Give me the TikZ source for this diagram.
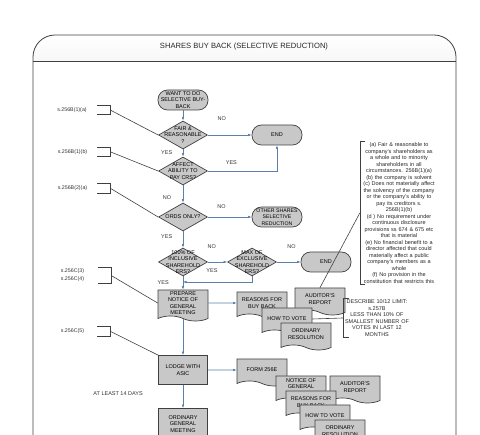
\documentclass[tikz,border=0pt]{standalone}
\usepackage{fontspec}
\setmainfont{Liberation Sans}
\usepackage{tikz}
\usetikzlibrary{positioning,arrows.meta,shapes.geometric,shapes.symbols}

\definecolor{flowblue}{RGB}{92,128,172}
\definecolor{boxgray}{RGB}{200,200,200}
\definecolor{edgegray}{RGB}{64,64,64}

\begin{document}
\begin{tikzpicture}[
			x=1pt, y=1pt,
			>={Latex[length=3.5pt,width=2.6pt]},
			on grid,
			every node/.style={
				align=center,
				inner sep=1pt,
				font=\fontsize{5.5}{6.5}\selectfont
			},
			terminal/.style={draw=edgegray, fill=boxgray, line width=0.7pt,
				rounded corners=9.5pt, minimum width=50pt, minimum height=20pt},
			decision/.style={diamond, draw=edgegray, fill=boxgray, line width=0.7pt,
				minimum width=49pt, minimum height=28pt, inner sep=0pt},
			process/.style={draw=edgegray, fill=boxgray, line width=0.7pt,
				minimum width=49pt, minimum height=29pt},
			docbox/.style={tape, tape bend top=none, tape bend bottom=out and in,
				tape bend height=5pt, draw=edgegray, fill=boxgray, line width=0.7pt,
				minimum width=50pt, minimum height=27pt},
			flow/.style={->, flowblue, line width=0.6pt},
			refline/.style={edgegray, line width=0.6pt},
			yesno/.style={text=black!80},
			clause/.style={text=black!80, font=\fontsize{5.3}{8}\selectfont},
			sidenote/.style={text=black!85, font=\fontsize{5.5}{6.5}\selectfont}
			]
			
			\useasboundingbox (0,0) rectangle (480,-435);
			\clip (0,0) rectangle (480,-435);
			
			%%%%%%%%%%%%%%%%%%%%%%%%%%%%%%%%%%%%%%%%%%%%%%%%%%%%%%%%%%%%
			% Frame
			%%%%%%%%%%%%%%%%%%%%%%%%%%%%%%%%%%%%%%%%%%%%%%%%%%%%%%%%%%%%
			
			\begin{scope}
				\clip (33,-61) rectangle (456,0);
				\shade[top color=white, bottom color=gray!20, rounded corners=22pt]
				(33,-120) -- (33,-35) -- (456,-35) -- (456,-120) -- cycle;
			\end{scope}
			
			\draw[edgegray, line width=0.8pt, rounded corners=22pt]
			(33,-450) -- (33,-35) -- (456,-35) -- (456,-450);
			
			\draw[edgegray, line width=0.8pt] (33,-61) -- (456,-61);
			
			\node[text=black!85, font=\fontsize{7.6}{9}\selectfont] (title) at (244,-47)
			{SHARES BUY BACK (SELECTIVE REDUCTION)};
			
			%%%%%%%%%%%%%%%%%%%%%%%%%%%%%%%%%%%%%%%%%%%%%%%%%%%%%%%%%%%%
			% Tests
			%%%%%%%%%%%%%%%%%%%%%%%%%%%%%%%%%%%%%%%%%%%%%%%%%%%%%%%%%%%%
			
			\node[terminal] (start) at (183,-100)
			{WANT TO DO\\SELECTIVE BUY-\\BACK};
			
			\node[decision, label=center:{FAIR \&\\REASONABLE\\?}] (fair) [below=35pt of start] {};
			
			\node[terminal] (end1) [right=94pt of fair] {END};
			
			\node[decision, label=center:{AFFECT\\ABILITY TO\\PAY CRS?}] (affect) [below=36pt of fair] {};
			
			\node[decision, label=center:{ORDS ONLY?}] (ords) [below=46pt of affect] {};
			
			\node[terminal, font=\fontsize{5.2}{6.3}\selectfont] (other) [right=94pt of ords]
			{OTHER SHARES\\SELECTIVE\\REDUCTION};
			
			\node[decision, label=center:{100\% OF\\INCLUSIVE\\SHAREHOLD\\ERS?}] (incl) [below=45pt of ords] {};
			
			\node[decision, label=center:{MAX OF\\EXCLUSIVE\\SHAREHOLD\\ERS?}] (maxd) [right=69pt of incl] {};
			
			\node[terminal] (end2) [right=74pt of maxd] {END};
			
			\coordinate[below=20pt of incl] (join);
			
			%%%%%%%%%%%%%%%%%%%%%%%%%%%%%%%%%%%%%%%%%%%%%%%%%%%%%%%%%%%%
			% Meeting
			%%%%%%%%%%%%%%%%%%%%%%%%%%%%%%%%%%%%%%%%%%%%%%%%%%%%%%%%%%%%
			
			\node[docbox, minimum height=31pt] (prepare) [below=41pt of incl]
			{PREPARE\\NOTICE OF\\GENERAL\\MEETING};
			
			\node[docbox] (reasons) [right=79pt of prepare] {REASONS FOR\\BUY BACK};
			
			\node[docbox] (auditor) [above right=4pt and 58pt of reasons] {AUDITOR'S\\REPORT};
			
			\node[docbox] (howvote) [below right=16pt and 25pt of reasons] {HOW TO VOTE};
			
			\node[docbox] (ordres) [below right=15pt and 19pt of howvote] {ORDINARY\\RESOLUTION};
			
			\node[process] (lodge) [below=67pt of prepare] {LODGE WITH\\ASIC};
			
			\node[process, minimum height=31pt] (ogm) [below=54pt of lodge]
			{ORDINARY\\GENERAL\\MEETING};
			
			%%%%%%%%%%%%%%%%%%%%%%%%%%%%%%%%%%%%%%%%%%%%%%%%%%%%%%%%%%%%
			% Lodged Documents
			%%%%%%%%%%%%%%%%%%%%%%%%%%%%%%%%%%%%%%%%%%%%%%%%%%%%%%%%%%%%
			
			\node[docbox] (form) [right=79pt of lodge] {FORM 256E};
			
			\node[docbox] (notice2) [below right=17pt and 39pt of form] {NOTICE OF\\GENERAL\\MEETING};
			
			\node[docbox] (auditor2) [right=54pt of notice2] {AUDITOR'S\\REPORT};
			
			\node[docbox] (reasons2) [below right=15pt and 10pt of notice2] {REASONS FOR\\BUY BACK};
			
			\node[docbox] (howvote2) [below right=14pt and 14pt of reasons2] {HOW TO VOTE};
			
			\node[docbox] (ordres2) [below right=15pt and 15pt of howvote2] {ORDINARY\\RESOLUTION};
			
			%%%%%%%%%%%%%%%%%%%%%%%%%%%%%%%%%%%%%%%%%%%%%%%%%%%%%%%%%%%%
			% Sections
			%%%%%%%%%%%%%%%%%%%%%%%%%%%%%%%%%%%%%%%%%%%%%%%%%%%%%%%%%%%%
			
			\node (br1) [above left=25pt and 79.5pt of fair, minimum width=13pt, minimum height=8pt] {};
			\node[clause] (ref1) [left=31.5pt of br1] {s.256B(1)(a)};
			
			\node (br2) [above left=19pt and 79pt of affect, minimum width=13pt, minimum height=9pt] {};
			\node[clause] (ref2) [left=31.5pt of br2] {s.256B(1)(b)};
			
			\node (br3) [above left=28.5pt and 79pt of ords, minimum width=13pt, minimum height=9pt] {};
			\node[clause] (ref3) [left=31.5pt of br3] {s.256B(2)(a)};
			
			\node (br4) [above left=27.5pt and 78.5pt of prepare, minimum width=13pt, minimum height=15pt] {};
			\node[clause] (ref4) [left=32pt of br4] {s.256C(3)\\s.256C(4)};
			
			\node (br5) [above left=38.5pt and 79pt of lodge, minimum width=13pt, minimum height=9pt] {};
			\node[clause] (ref5) [left=31.5pt of br5] {s.256C(5)};
			
			%%%%%%%%%%%%%%%%%%%%%%%%%%%%%%%%%%%%%%%%%%%%%%%%%%%%%%%%%%%%
			% Notes
			%%%%%%%%%%%%%%%%%%%%%%%%%%%%%%%%%%%%%%%%%%%%%%%%%%%%%%%%%%%%
			
			\node[sidenote, text width=76pt] (crit) [below right=78pt and 122pt of end1]
			{(a) Fair \& reasonable to\\
				company's shareholders as\\
				a whole and to minority\\
				shareholders in all\\
				circumstances. 256B(1)(a)\\
				(b) the company is solvent\\
				(c) Does not materially affect\\
				the solvency of the company\\
				or the company's ability to\\
				pay its creditors s.\\
				256B(1)(b)\\
				(d ) No requirement under\\
				continuous disclosure\\
				provisions ss 674 \& 675 etc\\
				that is material\\
				(e) No financial benefit to a\\
				director affected that could\\
				materially affect a public\\
				company's members as a\\
				whole\\
				(f) No provision in the\\
				constitution that restricts this};
			
			\node[sidenote, text width=66pt] (limit) [below right=19pt and 57pt of auditor]
			{DESCRIBE 10/12 LIMIT:\\
				s.257B\\
				LESS THAN 10\% OF\\
				SMALLEST NUMBER OF\\
				VOTES IN LAST 12\\
				MONTHS};
			
			%%%%%%%%%%%%%%%%%%%%%%%%%%%%%%%%%%%%%%%%%%%%%%%%%%%%%%%%%%%%
			% Connections
			%%%%%%%%%%%%%%%%%%%%%%%%%%%%%%%%%%%%%%%%%%%%%%%%%%%%%%%%%%%%
			
			% Tests
			
			\draw[flow] (start) -- (fair);
			
			\draw[flow] (fair) -- node[yesno, pos=.32, above=13pt]{NO} (end1);
			
			\draw[flow] (fair) -- node[yesno, pos=.5, left=9.5pt]{YES} (affect);
			
			\draw[flow] (affect) -| node[yesno, pos=.17, above=5pt]{YES} (end1);
			
			\draw[flow] (affect) -- node[yesno, pos=.7, left=10.5pt]{NO} (ords);
			
			\draw[flow] (ords) -- node[yesno, pos=.31, above=7pt]{NO} (other);
			
			\draw[flow] (ords) -- node[yesno, pos=.3, left=9.5pt]{YES} (incl);
			
			\draw[flow] (incl) -- node[yesno, pos=.2, above=12pt]{NO} (maxd);
			
			\draw[flow] (maxd) -- node[yesno, pos=.62, above=12pt]{NO} (end2);
			
			\draw[flow] (maxd) |- node[yesno, pos=.79, above=8pt]{YES} (join);
			
			\draw[flow] (incl) -- node[yesno, pos=.45, left=13pt]{YES} (prepare);
			
			% Meeting
			
			\draw[flow] (prepare) -- (reasons);
			
			\draw[flow] (prepare) -- (lodge);
			
			\draw[flow] (lodge) -- node[yesno, pos=.37, left=39pt]{AT LEAST 14 DAYS} (ogm);
			
			\draw[flow] (lodge) -- (form);
			
			% Sections
			
			\draw[refline] (br1.north west) -- (br1.north east) -- (br1.south east) -- (br1.south west);
			\draw[refline] (br1.east) -- (fair.west);
			
			\draw[refline] (br2.north west) -- (br2.north east) -- (br2.south east) -- (br2.south west);
			\draw[refline] (br2.east) -- (affect.west);
			
			\draw[refline] (br3.north west) -- (br3.north east) -- (br3.south east) -- (br3.south west);
			\draw[refline] (br3.east) -- (ords.west);
			
			\draw[refline] (br4.north west) -- (br4.north east) -- (br4.south east) -- (br4.south west);
			\draw[refline] (br4.east) -- (prepare.west);
			
			\draw[refline] (br5.north west) -- (br5.north east) -- (br5.south east) -- (br5.south west);
			\draw[refline] (br5.east) -- (lodge.north west);
			
			% Notes
			
			\draw[refline] ([xshift=5pt]crit.north west) -- (crit.north west) -- (crit.south west) -- ([xshift=5pt]crit.south west);
			\draw[refline] (crit.west) -- (auditor.north);
			
			\draw[refline] ([xshift=6pt]limit.north west) -- (limit.north west) -- (limit.south west) -- ([xshift=6pt]limit.south west);
			\draw[refline] (limit.west) -- (howvote.east);
			
			%%%%%%%%%%%%%%%%%%%%%%%%%%%%%%%%%%%%%%%%%%%%%%%%%%%%%%%%%%%%
			
		\end{tikzpicture}
\end{document}
